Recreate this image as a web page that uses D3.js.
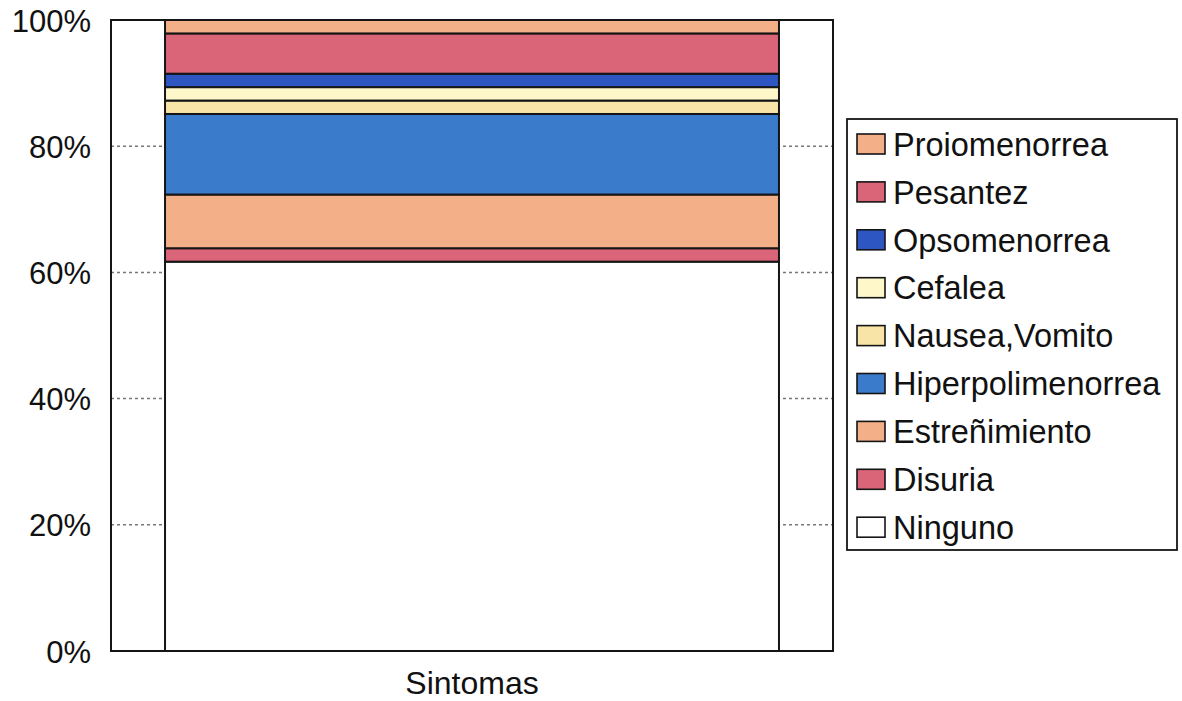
<!DOCTYPE html>
<html>
<head>
<meta charset="utf-8">
<script src="https://cdn.jsdelivr.net/npm/d3@7"></script>
<style>
  html, body { margin: 0; padding: 0; background: #fff; }
  svg { display: block; font-family: "Liberation Sans", Arial, sans-serif; }
</style>
</head>
<body>
<svg id="chart" width="1182" height="701"></svg>
<script>
// Patient counts per symptom, stacked bottom to top (shown as share of total)
const categories = ["Sintomas"];
const symptoms = ["Ninguno", "Disuria", "Estreñimiento", "Hiperpolimenorrea",
                  "Nausea,Vomito", "Cefalea", "Opsomenorrea", "Pesantez", "Proiomenorrea"];
const counts = [29, 1, 4, 6, 1, 1, 1, 3, 1];
const colors = ["#ffffff", "#da6579", "#f3b088", "#3b7bcb",
                "#f7e4a6", "#fdf7ca", "#2d56c3", "#da6579", "#f3b088"];
const yTicks = [0, 0.2, 0.4, 0.6, 0.8, 1.0];

const svg = d3.select("#chart");
const plot = { left: 111, right: 833, top: 20, bottom: 651 };

const x = d3.scaleBand()
  .domain(categories)
  .range([plot.left, plot.right])
  .paddingInner(0)
  .paddingOuter(0.088);

const y = d3.scaleLinear()
  .domain([0, 1])
  .range([plot.bottom, plot.top]);

// Build the stacked rows as fractions of the total
const total = d3.sum(counts);
const row = { category: categories[0] };
symptoms.forEach((s, i) => { row[s] = counts[i] / total; });
const stacked = d3.stack().keys(symptoms)([row]);

// Dotted horizontal gridlines
svg.append("g")
  .selectAll("line")
  .data(yTicks.filter(t => t > 0 && t < 1))
  .join("line")
  .attr("x1", plot.left).attr("x2", plot.right)
  .attr("y1", d => y(d)).attr("y2", d => y(d))
  .attr("stroke", "#777")
  .attr("stroke-width", 1.5)
  .attr("stroke-dasharray", "3,3");

// Stacked bar segments
svg.append("g")
  .selectAll("g")
  .data(stacked)
  .join("g")
  .attr("fill", (d, i) => colors[i])
  .selectAll("rect")
  .data(d => d)
  .join("rect")
  .attr("x", d => x(d.data.category))
  .attr("width", x.bandwidth())
  .attr("y", d => y(d[1]))
  .attr("height", d => y(d[0]) - y(d[1]))
  .attr("stroke", "#151515")
  .attr("stroke-width", 2);

// Plot area frame
svg.append("rect")
  .attr("x", plot.left).attr("y", plot.top)
  .attr("width", plot.right - plot.left)
  .attr("height", plot.bottom - plot.top)
  .attr("fill", "none")
  .attr("stroke", "#151515")
  .attr("stroke-width", 2);

// Y axis labels
const yAxis = d3.axisLeft(y)
  .tickValues(yTicks)
  .tickFormat(d3.format(".0%"))
  .tickSize(0)
  .tickPadding(20);
const yg = svg.append("g")
  .attr("transform", `translate(${plot.left},0)`)
  .call(yAxis);
yg.select(".domain").remove();
yg.selectAll("text")
  .attr("font-size", 31)
  .attr("font-family", "Liberation Sans, Arial, sans-serif")
  .attr("fill", "#111")
  .attr("dy", "0.36em");

// X axis label
const xAxis = d3.axisBottom(x).tickSize(0).tickPadding(20);
const xg = svg.append("g")
  .attr("transform", `translate(0,${plot.bottom})`)
  .call(xAxis);
xg.select(".domain").remove();
xg.selectAll("text")
  .attr("font-size", 32)
  .attr("font-family", "Liberation Sans, Arial, sans-serif")
  .attr("fill", "#111")
  .attr("dy", "0.71em");

// Legend, top entry is the top segment of the stack
const legend = { left: 847, top: 119, width: 330, height: 431, rowH: 47.9, firstY: 144 };
svg.append("rect")
  .attr("x", legend.left).attr("y", legend.top)
  .attr("width", legend.width).attr("height", legend.height)
  .attr("fill", "#fff")
  .attr("stroke", "#151515")
  .attr("stroke-width", 1.8);

const legendItems = symptoms.map((s, i) => ({ name: s, color: colors[i] })).reverse();
const items = svg.append("g")
  .selectAll("g")
  .data(legendItems)
  .join("g")
  .attr("transform", (d, i) => `translate(${legend.left + 10},${legend.firstY + i * legend.rowH})`);

items.append("rect")
  .attr("x", 0).attr("y", -10)
  .attr("width", 28).attr("height", 20)
  .attr("fill", d => d.color)
  .attr("stroke", "#151515")
  .attr("stroke-width", 1.6);

items.append("text")
  .attr("x", 36)
  .attr("dy", "0.36em")
  .attr("font-size", 32.5)
  .attr("fill", "#111")
  .text(d => d.name);
</script>
</body>
</html>
